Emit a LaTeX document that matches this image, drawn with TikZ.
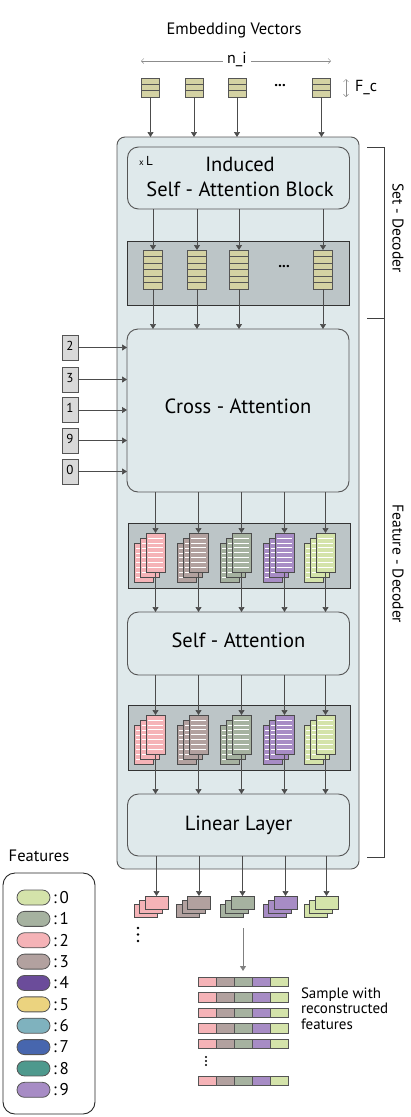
\documentclass[tikz,border=0pt]{standalone}
\usepackage{fontspec}
\setmainfont{PT Sans}
\usetikzlibrary{arrows.meta,calc}
\definecolor{outerfill}{HTML}{DFE9EB}
\definecolor{panelfill}{HTML}{BCC5C7}
\definecolor{edge}{HTML}{555555}
\definecolor{khaki}{HTML}{D4D2A3}
\definecolor{cpink}{HTML}{F5B3B7}
\definecolor{ctaupe}{HTML}{B2A19F}
\definecolor{csage}{HTML}{A6B2A0}
\definecolor{clav}{HTML}{A78CC5}
\definecolor{clgreen}{HTML}{D4E3AA}
\definecolor{cpurple}{HTML}{6B4C9A}
\definecolor{cyellow}{HTML}{EBD37F}
\definecolor{cltteal}{HTML}{7FB2BE}
\definecolor{cblue}{HTML}{4766AE}
\definecolor{cteal}{HTML}{4E998D}
\definecolor{numfill}{HTML}{D9D9D9}
\newcommand\fsz[1]{\fontsize{#1}{#1}\selectfont}
\newcommand\embvec[3]{% name, cx, ytop (3 cells)
  \node[vecbox, minimum width=18, minimum height=19, anchor=north] (#1) at (#2,#3) {};
  \foreach \k in {1,2} \draw[edge, line width=0.8] ($(#1.north west)+(0,\k*6.33)$) -- ($(#1.north east)+(0,\k*6.33)$);
}
\newcommand\tallvec[3]{% name, cx, ytop (6 cells)
  \node[vecbox, minimum width=19, minimum height=39, anchor=north] (#1) at (#2,#3) {};
  \foreach \k in {1,...,5} \draw[edge, line width=0.8] ($(#1.north west)+(0,\k*6.5)$) -- ($(#1.north east)+(0,\k*6.5)$);
}
\newcommand\fstack[4]{% prefix, cx, ytop, colour
  \foreach \dx/\dy/\s in {-22/10/b,-16/5/m,-10/0/f}{
    \node[sheet, fill=#4, minimum width=19, minimum height=39, anchor=north west] (#1\s) at (#2+\dx,#3+\dy) {};
    \foreach \k in {1,...,7} \draw[white, line width=0.6] ($(#1\s.north west)+(2,\k*4.9)$) -- ($(#1\s.north east)+(-2,\k*4.9)$);
  }
}
\newcommand\ostack[4]{% prefix, cx, ytop, colour
  \foreach \dx/\dy/\s in {-23/8/b,-17.5/4/m,-12/0/f}{
    \node[sheet, fill=#4, minimum width=23, minimum height=13, anchor=north west] (#1\s) at (#2+\dx,#3+\dy) {};
  }
}
\newcommand\samplerow[2]{% name, ytop
  \foreach \c [count=\i] in {cpink,ctaupe,csage,clav,clgreen}
    \node[cell, fill=\c, anchor=north west] (#1c\i) at (198+18*\i-18,#2) {};
}
\begin{document}
\begin{tikzpicture}[x=1pt,y=-1pt,
  every node/.style={inner sep=0pt, outer sep=0pt},
  arr/.style={draw=black!70, line width=0.7pt, -{Triangle[width=6pt,length=5pt]}},
  thinarr/.style={draw=black!45, line width=0.5pt, {Straight Barb[length=2.5pt,width=5pt]}-{Straight Barb[length=2.5pt,width=5pt]}},
  outerbox/.style={draw=edge, line width=0.9pt, fill=outerfill, rounded corners=8pt},
  block/.style={draw=edge, line width=0.9pt, fill=outerfill, rounded corners=11pt},
  btext/.style={font=\fsz{20.5}},
  panel/.style={draw=black!80, line width=0.8pt, fill=panelfill},
  vecbox/.style={draw=edge, line width=0.9pt, fill=khaki},
  sheet/.style={draw=black!70, line width=0.8pt},
  cell/.style={draw=edge, line width=0.8pt, minimum width=18, minimum height=9.5},
  numbox/.style={draw=edge, line width=0.8pt, fill=numfill, minimum width=16, minimum height=25, font=\fsz{13}},
  pill/.style={draw=edge, line width=0.8pt, rounded corners=7.5pt, minimum width=33, minimum height=15}
]
\useasboundingbox (0,0) rectangle (410,1117);

% header
\node[font=\fsz{16.5}] (title) at (234,30) {Embedding Vectors};
\coordinate (nil) at (141,61);
\coordinate (nir) at (331,61);
\draw[thinarr] (nil) -- (nir);
\node[fill=white, inner xsep=4pt, font=\fsz{16}] (ni) at (237,59.5) {n\_i};

% embedding vectors
\embvec{e1}{150.5}{78}
\embvec{e2}{194}{78}
\embvec{e3}{237}{78}
\embvec{e4}{321.5}{78}
\node[font=\fsz{15}\bfseries] (edots) at (280,86) {...};
\coordinate (fct) at (346,79);
\coordinate (fcb) at (346,97);
\draw[thinarr] (fct) -- (fcb);
\node[anchor=west, font=\fsz{16}] (fc) at (355,88) {F\_c};

% outer box
\node[outerbox, minimum width=242, minimum height=732] (outer) at (238,503) {};

% arrows into outer box
\foreach \v in {e1,e2,e3,e4} \draw[arr] (\v.south) -- (\v.south |- outer.north);

% ISAB
\node[block, minimum width=222, minimum height=62] (isab) at (238.5,178) {};
\node[btext] (isab1) at (240,164) {Induced};
\node[btext] (isab2) at (240,189.5) {Self - Attention Block};
\node[font=\fsz{13}] (xl) at (146,161) {{\fsz{9}x}\,L};

% panel 1 (set decoder output)
\node[panel, minimum width=222, minimum height=64] (pan1) at (238,273) {};
\tallvec{t1}{153}{250}
\tallvec{t2}{197}{250}
\tallvec{t3}{239}{250}
\tallvec{t4}{323}{250}
\node[font=\fsz{15}\bfseries] (tdots) at (284,267) {...};
\foreach \v in {t1,t2,t3,t4} \draw[arr] (\v.north |- isab.south) -- (\v.north);

% cross attention
\node[block, minimum width=222, minimum height=163] (cross) at (238,410.5) {};
\node[btext] (crosst) at (238,406) {Cross - Attention};
\foreach \v in {t1,t2,t3,t4} \draw[arr] (\v.south) -- (\v.south |- cross.north);

% feature index boxes
\foreach \n/\y [count=\i] in {2/347.5,3/379.5,1/410,9/440.5,0/471.5}{
  \node[numbox] (num\i) at (70,\y) {\raisebox{4pt}{\n}};
  \draw[arr] (num\i.east) -- (num\i.east -| cross.west);
}

% feature panel 1
\node[panel, minimum width=222, minimum height=65] (pan2) at (239,555.5) {};
\foreach \c/\col [count=\i] in {156/cpink,199/ctaupe,242/csage,285/clav,326/clgreen}{
  \fstack{a\i}{\c}{533}{\col}
  \draw[arr] (a\i f.north |- cross.south) -- (a\i f.north);
}

% self attention
\node[block, minimum width=222, minimum height=63] (self) at (238.5,643.5) {};
\node[btext] (selft) at (238.5,640) {Self - Attention};
\foreach \i in {1,...,5} \draw[arr] (a\i f.south) -- (a\i f.south |- self.north);

% feature panel 2
\node[panel, minimum width=222, minimum height=65] (pan3) at (239,737.5) {};
\foreach \c/\col [count=\i] in {156/cpink,199/ctaupe,242/csage,285/clav,326/clgreen}{
  \fstack{b\i}{\c}{715}{\col}
  \draw[arr] (b\i f.north |- self.south) -- (b\i f.north);
}

% linear layer
\node[block, minimum width=222, minimum height=62] (lin) at (238.5,825) {};
\node[btext] (lint) at (238.5,825) {Linear Layer};
\foreach \i in {1,...,5} \draw[arr] (b\i f.south) -- (b\i f.south |- lin.north);

% output stacks
\foreach \c/\col [count=\i] in {157/cpink,199.5/ctaupe,243/csage,286/clav,327/clgreen}{
  \ostack{o\i}{\c}{896}{\col}
  \draw[arr] (o\i f.north |- lin.south) -- (o\i f.north);
}
\foreach \y [count=\i] in {928,934.5,941} \fill (138,\y) circle (1.3) coordinate (od\i);

% samples
\samplerow{r1}{977}
\samplerow{r2}{992.5}
\samplerow{r3}{1008}
\samplerow{r4}{1023.5}
\samplerow{r5}{1039}
\samplerow{r6}{1076}
\foreach \y [count=\i] in {1057,1061,1065} \fill (206,\y) circle (1.1) coordinate (sd\i);
\coordinate (sstart) at (243,928);
\draw[arr, draw=black!50, line width=1pt, shorten >=6pt] (sstart) -- (r1c3.north -| sstart);
\node[anchor=west, align=left, font=\fsz{15}] (stext) at (301,1008.5) {Sample with\\[0.5pt]reconstructed\\[0.5pt]features};

% brackets
\coordinate (bt) at (367,147);
\coordinate (bm) at (367,318.5);
\coordinate (bb) at (367,857);
\draw[black!75, line width=0.8pt] (bt) -- ++(17,0) -- ($(bb)+(17,0)$) -- (bb);
\draw[black!75, line width=0.8pt] (bm) -- ++(17,0);
\node[rotate=-90, font=\fsz{15.5}] (setd) at (398,228) {Set - Decoder};
\node[rotate=-90, font=\fsz{15.5}] (featd) at (398,564) {Feature - Decoder};

% legend
\node[font=\fsz{16.5}] (ftitle) at (39,855.5) {Features};
\node[draw=black!85, line width=0.9pt, rounded corners=12pt, minimum width=92, minimum height=241, anchor=north west] (legend) at (3,873) {};
\foreach \col/\n [count=\i from 0] in {clgreen/0,csage/1,cpink/2,ctaupe/3,cpurple/4,cyellow/5,cltteal/6,cblue/7,cteal/8,clav/9}{
  \node[pill, fill=\col] (pill\n) at (33.5,897.5+21.37*\i) {};
  \node[anchor=west, font=\fsz{17}] (plab\n) at (53,897.5+21.37*\i) {:\,\n};
}
\end{tikzpicture}
\end{document}
